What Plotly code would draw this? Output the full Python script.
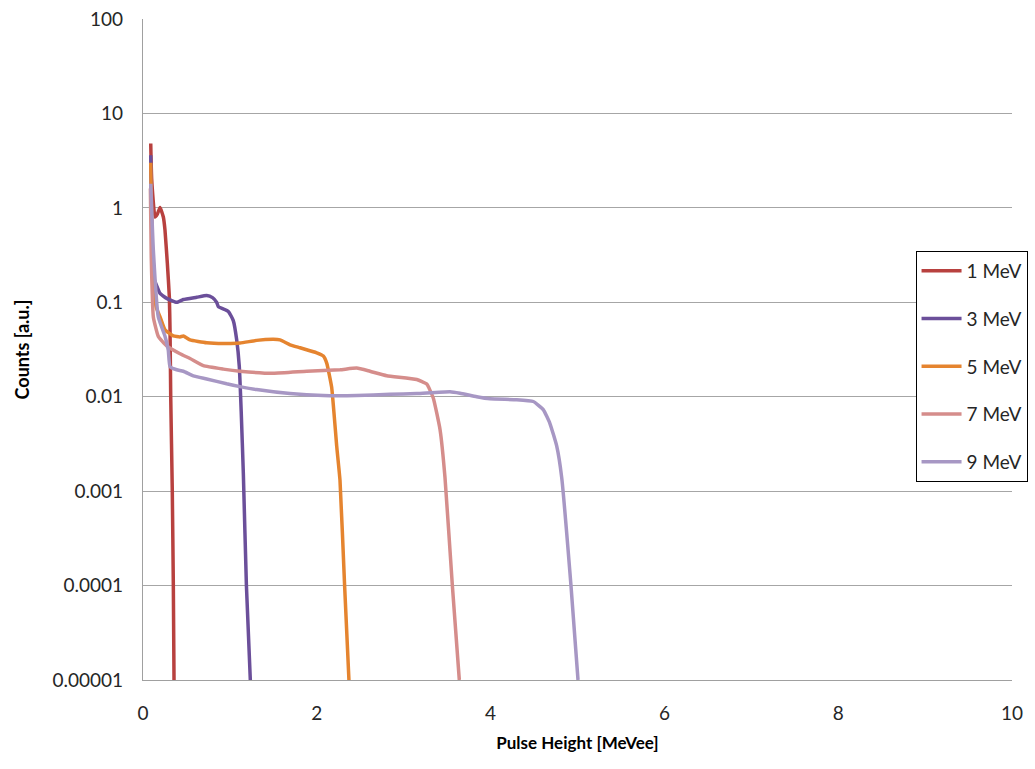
import plotly.graph_objects as go

# Pulse-height spectra for mono-energetic neutron sources
labels = ["1 MeV", "3 MeV", "5 MeV", "7 MeV", "9 MeV"]
colors = ["#b8413f", "#6b4f9a", "#e5842f", "#d58d8b", "#a797c4"]

x_1mev = [0.089, 0.10, 0.138, 0.165, 0.196, 0.234, 0.253, 0.28, 0.303, 0.311, 0.319, 0.337, 0.349, 0.357]
y_1mev = [4.8, 2.0, 0.80, 0.86, 1.01, 0.80, 0.58, 0.26, 0.115, 0.051, 0.01, 0.001, 0.0001, 0.00001]

x_3mev = [0.089, 0.10, 0.119, 0.176, 0.196, 0.273, 0.388, 0.464, 0.618, 0.733, 0.80, 0.848, 0.867,
          0.982, 1.039, 1.078, 1.108, 1.13, 1.155, 1.19, 1.235]
y_3mev = [3.6, 0.6, 0.187, 0.136, 0.124, 0.11, 0.10, 0.107, 0.113, 0.118, 0.112, 0.10, 0.09,
          0.08, 0.064, 0.04, 0.021, 0.007, 0.0015, 0.0001, 0.00001]

x_5mev = [0.089, 0.11, 0.15, 0.196, 0.253, 0.349, 0.426, 0.464, 0.541, 0.733, 0.924, 1.116, 1.308,
          1.5, 1.576, 1.692, 1.807, 1.999, 2.075, 2.114, 2.171, 2.229, 2.267, 2.32, 2.37]
y_5mev = [3.0, 0.3, 0.09, 0.07, 0.051, 0.044, 0.043, 0.044, 0.040, 0.0373, 0.0366, 0.037, 0.0395,
          0.0405, 0.040, 0.0355, 0.033, 0.0292, 0.027, 0.0227, 0.0126, 0.003, 0.0013, 0.0001, 0.00001]

x_7mev = [0.085, 0.095, 0.119, 0.176, 0.273, 0.426, 0.541, 0.694, 0.924, 1.116, 1.5, 1.884, 2.267,
          2.459, 2.612, 2.804, 3.15, 3.265, 3.34, 3.418, 3.475, 3.56, 3.64]
y_7mev = [1.6, 0.3, 0.07, 0.0436, 0.0345, 0.0285, 0.0254, 0.0213, 0.0196, 0.0186, 0.0177, 0.0186, 0.0193,
          0.0201, 0.0186, 0.0167, 0.0152, 0.0136, 0.0097, 0.0045, 0.0014, 0.0001, 0.00001]

x_9mev = [0.089, 0.119, 0.176, 0.253, 0.291, 0.311, 0.388, 0.464, 0.579, 0.733, 0.963, 1.116, 1.308,
          1.692, 2.075, 2.459, 2.842, 3.15, 3.533, 3.648, 3.84, 3.993, 4.3, 4.491, 4.606, 4.683,
          4.761, 4.818, 4.925, 5.006]
y_9mev = [1.8, 0.358, 0.07, 0.0436, 0.031, 0.0208, 0.0193, 0.0186, 0.0166, 0.0154, 0.0137, 0.0128, 0.0119,
          0.0108, 0.0103, 0.0103, 0.0106, 0.0108, 0.0113, 0.0109, 0.0100, 0.0095, 0.0093, 0.0089, 0.0073, 0.0052,
          0.003, 0.0014, 0.0001, 0.00001]

series_x = [x_1mev, x_3mev, x_5mev, x_7mev, x_9mev]
series_y = [y_1mev, y_3mev, y_5mev, y_7mev, y_9mev]

y_tickvals = [100, 10, 1, 0.1, 0.01, 0.001, 0.0001, 0.00001]
y_ticktext = ["100", "10", "1", "0.1", "0.01", "0.001", "0.0001", "0.00001"]
x_tickvals = [0, 2, 4, 6, 8, 10]

fig = go.Figure()
for name, col, xs, ys in zip(labels, colors, series_x, series_y):
    fig.add_trace(go.Scatter(
        x=xs, y=ys, mode="lines", name=name, legendgroup=name,
        line=dict(color=col, width=3.5, shape="spline", smoothing=0.4),
    ))

font_family = "Lato, 'Open Sans', sans-serif"

fig.update_layout(
    width=1035, height=769,
    margin=dict(l=143, r=23, t=19, b=89, autoexpand=False),
    paper_bgcolor="white", plot_bgcolor="white",
    font=dict(family=font_family, size=19, color="#262626"),
    showlegend=True,
    legend=dict(
        x=0.889, y=0.649, xanchor="left", yanchor="top",
        bordercolor="#000000", borderwidth=1, bgcolor="white",
        font=dict(size=19, color="#262626"),
        traceorder="grouped", tracegroupgap=20,
        itemwidth=40,
    ),
)

fig.update_xaxes(
    range=[0, 10], tickvals=x_tickvals, showgrid=False, zeroline=False,
    showline=True, linecolor="#a0a0a0", linewidth=1.3, ticks="", automargin=False,
    tickfont=dict(size=19, color="#262626"), ticklabelstandoff=16,
    title=dict(text="<b>Pulse Height [MeVee]</b>", font=dict(size=17, color="#000000"), standoff=14),
)
fig.update_yaxes(
    type="log", range=[-5, 2], tickvals=y_tickvals, ticktext=y_ticktext,
    showgrid=True, gridcolor="#a6a6a6", gridwidth=1.2, zeroline=False,
    showline=True, linecolor="#a0a0a0", linewidth=1.3, ticks="", automargin=False,
    tickfont=dict(size=19, color="#262626"), ticklabelstandoff=15,
    title=dict(text="<b>Counts [a.u.]</b>", font=dict(size=18, color="#000000"), standoff=18),
)

fig.write_html("out.html")
